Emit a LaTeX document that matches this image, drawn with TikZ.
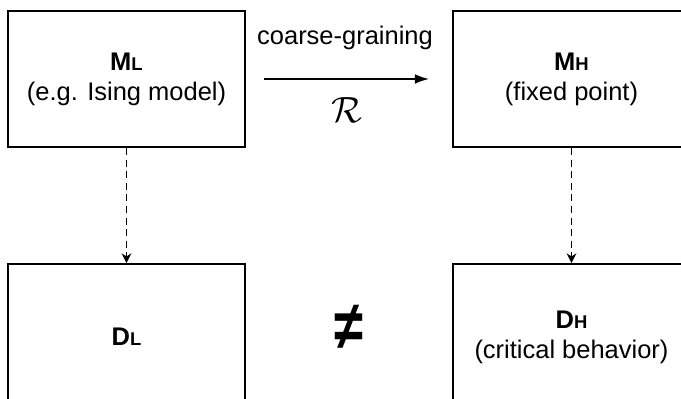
\documentclass[tikz,border=0pt]{standalone}
\usepackage{amsmath,amssymb}
\usepackage{fontspec}
\setmainfont{Liberation Sans}
\usepackage{tikz}
\usetikzlibrary{arrows.meta, positioning}
\tikzset{
  model/.style={draw, line width=1.1pt, minimum width=4.74cm, minimum height=2.72cm,
    align=center, font=\fontsize{14.5}{17}\selectfont, inner sep=0pt},
  mapto/.style={-{Stealth[length=5.5pt, width=5.5pt]}, line width=1pt, dash pattern=on 4pt off 2.6pt}
}
\newcommand{\lbl}[2]{{\bfseries #1{\fontsize{10.5}{12}\selectfont #2}}}

\begin{document}
\begin{tikzpicture}
  \useasboundingbox (0,0) rectangle (13.62,7.98);
  \clip (0,0) rectangle (13.62,7.98);
  % Models
  \node[model] (ML) at (2.53, 6.40) {\lbl{M}{L}\\(e.g. Ising model)};
  \node[model] (MH) at (11.43, 6.40) {\lbl{M}{H}\\(fixed point)};
  % Descriptions
  \node[model, minimum height=2.92cm] (DL) at (2.53, 1.24) {\lbl{D}{L}};
  \node[model, minimum height=2.92cm] (DH) at (11.43, 1.24) {\lbl{D}{H}\\(critical behavior)};
  % RG flow
  \draw[-{Latex[length=8pt, width=5.5pt]}, line width=0.9pt, shorten <=0.36cm, shorten >=0.46cm] (ML) -- (MH);
  \node[anchor=base, font=\fontsize{14.5}{17}\selectfont] (cg) at (6.90, 7.08) {coarse-graining};
  \node (R) at (6.93, 5.78) {\fontsize{21}{24}\selectfont$\mathcal{R}$};
  \draw[mapto] (ML) -- (DL);
  \draw[mapto] (MH) -- (DH);
  \node (neq) at (6.97, 1.44) {\scalebox{1}[1.3]{\fontsize{30}{34}\selectfont\bfseries ≠}};
\end{tikzpicture}
\end{document}
